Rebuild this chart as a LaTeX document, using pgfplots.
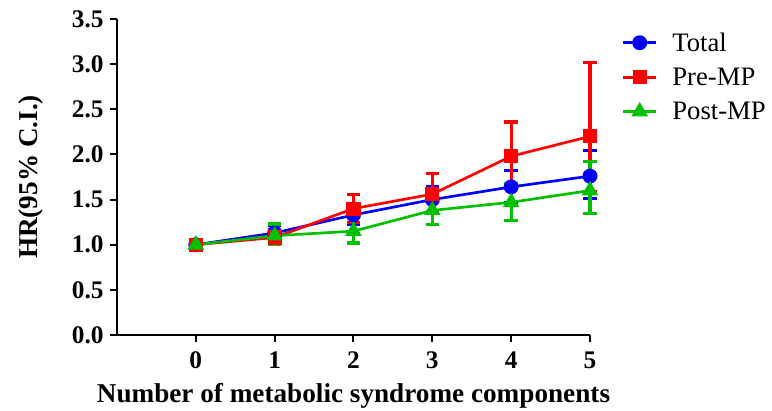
\documentclass[border=0pt]{standalone}
\usepackage{pgfplots}
\pgfplotsset{compat=1.18}
\usepackage{fontspec}
\setmainfont{Liberation Serif}
\definecolor{cblue}{RGB}{0,0,255}
\definecolor{cred}{RGB}{255,0,0}
\definecolor{cgreen}{RGB}{0,192,0}
\begin{document}
\begin{tikzpicture}
\useasboundingbox (-87.75pt,-57pt) rectangle (491.25pt,251.25pt);
\begin{axis}[
  scale only axis,
  width=354.75pt, height=237pt,
  at={(0,0)}, anchor=south west,
  xmin=-1, xmax=5, ymin=0, ymax=3.5,
  axis x line*=bottom, axis y line*=left,
  axis line style={line width=1.5pt, -},
  xtick={0,1,2,3,4,5},
  ytick={0,0.5,...,3.5},
  tick style={line width=1.5pt, black},
  tick align=outside,
  major tick length=5pt,
  /pgf/number format/assume math mode=true,
  ticklabel style={font=\fontsize{19}{22}\selectfont\bfseries},
  xticklabel style={yshift=-4pt},
  yticklabel style={xshift=-1.5pt, /pgf/number format/.cd, fixed, fixed zerofill, precision=1},
  xlabel={Number of metabolic syndrome components},
  ylabel={HR(95\% C.I.)},
  label style={font=\fontsize{20.4}{24}\selectfont\bfseries},
  xlabel style={yshift=-4pt},
  ylabel style={yshift=15pt},
  legend style={draw=none, fill=none, at={(rel axis cs:1.058,0.975)}, anchor=north west,
    font=\fontsize{20}{23}\selectfont, row sep=7pt, legend cell align=left,
    /tikz/every odd column/.append style={column sep=9pt}},
  legend image code/.code={\draw[mark repeat=2,mark phase=2] plot coordinates {(0cm,0cm) (0.44cm,0cm) (0.88cm,0cm)};},
  every axis plot/.append style={line width=2pt},
  error bars/error bar style={line width=2.4pt},
  error bars/error mark options={line width=2.4pt, mark size=5pt, rotate=90},
  clip=false,
]
\addplot+[cblue, mark=*, mark size=4.6pt, mark options={solid, fill=cblue, draw=cblue},
  error bars/.cd, y dir=both, y explicit]
  table[x=x, y=y, y error plus=ep, y error minus=em] {
x y ep em
0 1.00 0.00 0.00
1 1.13 0.08 0.08
2 1.33 0.09 0.11
3 1.50 0.14 0.13
4 1.64 0.18 0.17
5 1.76 0.28 0.25
};
\addlegendentry{Total}
\addplot+[cred, mark=square*, mark size=4.3pt, mark options={solid, fill=cred, draw=cred},
  error bars/.cd, y dir=both, y explicit]
  table[x=x, y=y, y error plus=ep, y error minus=em] {
x y ep em
0 1.00 0.00 0.00
1 1.08 0.09 0.08
2 1.40 0.16 0.15
3 1.56 0.23 0.20
4 1.98 0.38 0.34
5 2.20 0.82 0.61
};
\addlegendentry{Pre-MP}
\addplot+[cgreen, mark=triangle*, mark size=5.2pt, mark options={solid, fill=cgreen, draw=cgreen},
  error bars/.cd, y dir=both, y explicit]
  table[x=x, y=y, y error plus=ep, y error minus=em] {
x y ep em
0 1.00 0.00 0.00
1 1.10 0.13 0.10
2 1.15 0.15 0.13
3 1.38 0.18 0.16
4 1.47 0.21 0.20
5 1.60 0.32 0.25
};
\addlegendentry{Post-MP}
\end{axis}
\end{tikzpicture}
\end{document}
